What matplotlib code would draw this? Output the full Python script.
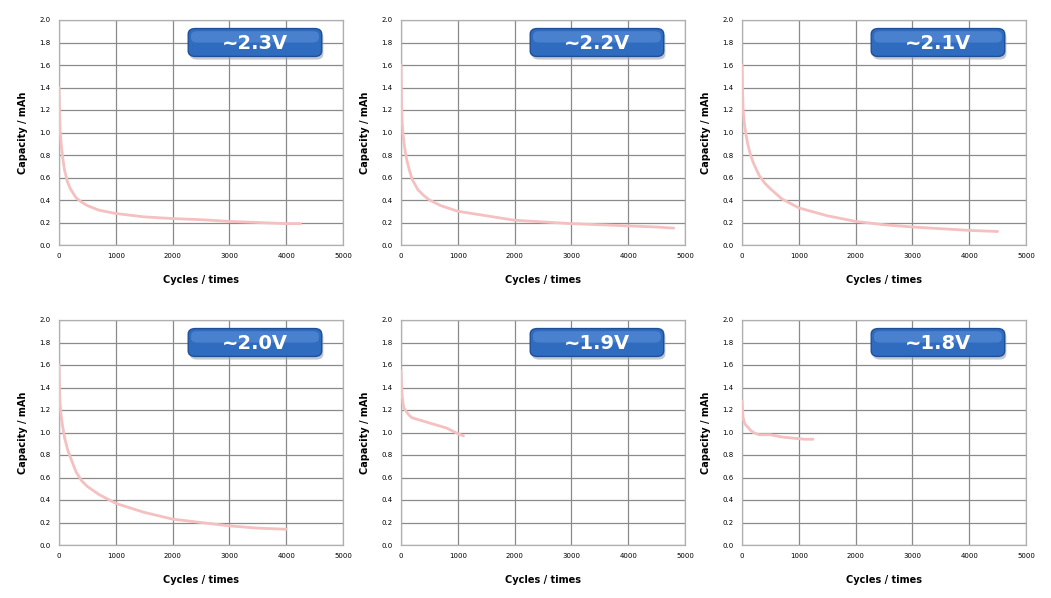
import matplotlib
matplotlib.use("Agg")
import matplotlib.pyplot as plt
from matplotlib.patches import FancyBboxPatch

# ---- data ----
labels = ["~2.3V", "~2.2V", "~2.1V", "~2.0V", "~1.9V", "~1.8V"]

cyc_23 = [0, 10, 20, 35, 50, 75, 100, 150, 200, 300, 400, 500, 700, 1000, 1500, 2000, 2500, 3000, 3500, 4000, 4250]
cap_23 = [1.40, 1.15, 1.02, 0.92, 0.84, 0.74, 0.66, 0.56, 0.50, 0.42, 0.38, 0.35, 0.31, 0.28, 0.25, 0.235, 0.225, 0.21, 0.20, 0.19, 0.19]

cyc_22 = [0, 10, 20, 35, 50, 75, 100, 150, 200, 300, 400, 500, 700, 1000, 1500, 2000, 2500, 3000, 3500, 4000, 4500, 4800]
cap_22 = [1.60, 1.25, 1.10, 0.99, 0.92, 0.83, 0.76, 0.66, 0.58, 0.49, 0.44, 0.40, 0.35, 0.30, 0.26, 0.22, 0.205, 0.19, 0.18, 0.17, 0.16, 0.15]

cyc_21 = [0, 10, 20, 35, 50, 75, 100, 150, 200, 300, 400, 500, 700, 1000, 1500, 2000, 2500, 3000, 3500, 4000, 4500]
cap_21 = [1.60, 1.35, 1.20, 1.11, 1.05, 0.97, 0.90, 0.80, 0.73, 0.62, 0.55, 0.50, 0.41, 0.33, 0.26, 0.21, 0.18, 0.16, 0.145, 0.13, 0.12]

cyc_20 = [0, 10, 20, 35, 50, 75, 100, 150, 200, 300, 400, 500, 700, 1000, 1500, 2000, 2500, 3000, 3500, 4000]
cap_20 = [1.60, 1.35, 1.25, 1.16, 1.10, 1.02, 0.95, 0.85, 0.78, 0.65, 0.57, 0.52, 0.45, 0.37, 0.29, 0.23, 0.20, 0.17, 0.15, 0.14]

cyc_19 = [0, 10, 20, 35, 50, 75, 100, 150, 200, 400, 600, 800, 1000, 1100]
cap_19 = [1.55, 1.42, 1.33, 1.26, 1.22, 1.20, 1.18, 1.15, 1.13, 1.10, 1.07, 1.04, 0.99, 0.97]

cyc_18 = [0, 10, 20, 35, 50, 75, 100, 150, 200, 300, 500, 700, 900, 1100, 1250]
cap_18 = [1.28, 1.20, 1.13, 1.10, 1.08, 1.06, 1.05, 1.02, 1.00, 0.98, 0.98, 0.96, 0.95, 0.94, 0.94]

cycles = [cyc_23, cyc_22, cyc_21, cyc_20, cyc_19, cyc_18]
capacity = [cap_23, cap_22, cap_21, cap_20, cap_19, cap_18]

x_ticks = [0, 1000, 2000, 3000, 4000, 5000]
y_ticks = [0.0, 0.2, 0.4, 0.6, 0.8, 1.0, 1.2, 1.4, 1.6, 1.8, 2.0]

# ---- layout ----
W, H = 1051, 598
fig = plt.figure(figsize=(W / 100, H / 100), dpi=100)
fig.patch.set_facecolor("white")

lefts = [59, 401, 742]
tops = [20, 320]
pw, ph = 284, 225

for i in range(6):
    r, c = divmod(i, 3)
    l = lefts[c]
    t = tops[r]
    ax = fig.add_axes([l / W, 1 - (t + ph) / H, pw / W, ph / H])
    ax.set_xlim(0, 5000)
    ax.set_ylim(0, 2.0)
    ax.set_xticks(x_ticks)
    ax.set_yticks(y_ticks)
    ax.set_xticklabels([str(v) for v in x_ticks], fontsize=5)
    ax.set_yticklabels([f"{v:.1f}" for v in y_ticks], fontsize=5)
    ax.tick_params(length=0, pad=6)
    ax.grid(True, color="#8a8a8a", linewidth=0.9)
    ax.set_axisbelow(True)
    for s in ax.spines.values():
        s.set_color("#b0b0b0")
        s.set_linewidth(0.9)
    ax.plot(cycles[i], capacity[i], color="#f4c0c0", linewidth=2.0,
            solid_capstyle="round", zorder=3)
    ax.set_xlabel("Cycles / times", fontsize=7, fontweight="bold", labelpad=11)
    ax.set_ylabel("Capacity / mAh", fontsize=7, fontweight="bold", labelpad=8)

    # blue label box
    bx0, bx1 = 0.455, 0.925
    by0, by1 = 0.838, 0.962
    shadow = FancyBboxPatch((bx0 + 0.006, by0 - 0.014), bx1 - bx0, by1 - by0,
                            boxstyle="round,pad=0,rounding_size=0.025",
                            transform=ax.transAxes, facecolor="#9aa3b0",
                            edgecolor="none", alpha=0.6, zorder=5, clip_on=False)
    ax.add_patch(shadow)
    box = FancyBboxPatch((bx0, by0), bx1 - bx0, by1 - by0,
                         boxstyle="round,pad=0,rounding_size=0.025",
                         transform=ax.transAxes, facecolor="#2f6cc0",
                         edgecolor="#1f4f96", linewidth=1.0, zorder=6, clip_on=False)
    ax.add_patch(box)
    hl = FancyBboxPatch((bx0 + 0.01, (by0 + by1) / 2), bx1 - bx0 - 0.02, (by1 - by0) / 2 - 0.012,
                        boxstyle="round,pad=0,rounding_size=0.02",
                        transform=ax.transAxes, facecolor="#5b90d8",
                        edgecolor="none", alpha=0.6, zorder=6.5, clip_on=False)
    ax.add_patch(hl)
    ax.text((bx0 + bx1) / 2, (by0 + by1) / 2 - 0.005, labels[i], transform=ax.transAxes,
            ha="center", va="center", color="white", fontsize=14,
            fontweight="bold", family="DejaVu Sans", zorder=7)

fig.savefig("out.png", dpi=100, facecolor="white")
